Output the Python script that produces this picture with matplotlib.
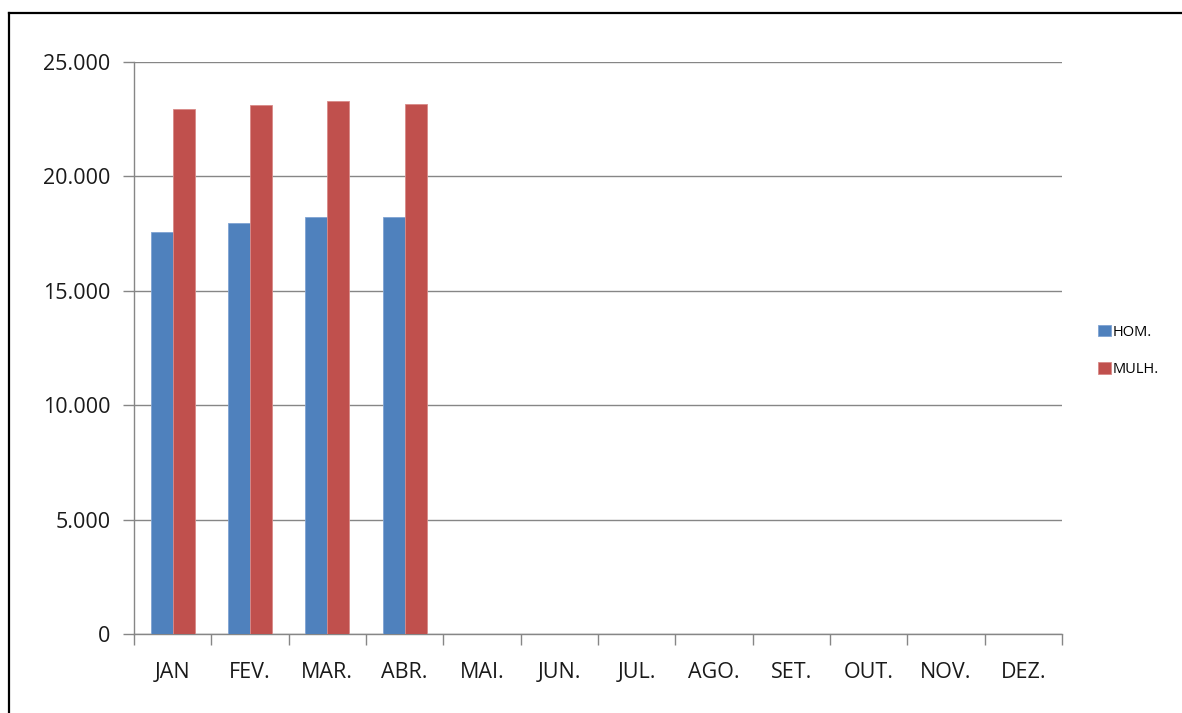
import matplotlib.pyplot as plt
from matplotlib.lines import Line2D
from matplotlib.ticker import FuncFormatter, MultipleLocator
import numpy as np

months = ["JAN", "FEV.", "MAR.", "ABR.", "MAI.", "JUN.", "JUL.", "AGO.", "SET.", "OUT.", "NOV.", "DEZ."]
hom = [17560, 17950, 18225, 18225]     # only first four months filled
mulh = [22930, 23110, 23280, 23150]
series_names = ["HOM.", "MULH."]

blue = "#4F81BD"
red = "#C0504D"
grid_gray = "#868686"

plt.rcParams["font.family"] = ["Open Sans", "DejaVu Sans"]

fig = plt.figure(figsize=(11.82, 7.13), dpi=100)
ax = fig.add_axes([134 / 1182, 79 / 713, 928 / 1182, 572 / 713])

x = np.arange(len(hom))
w = 0.285
ax.bar(x - w / 2, hom, width=w, color=blue, edgecolor="#7FA3D3", linewidth=0.6, label=series_names[0], zorder=3)
ax.bar(x + w / 2, mulh, width=w, color=red, edgecolor="#D98A88", linewidth=0.6, label=series_names[1], zorder=3)

ax.set_xlim(-0.5, len(months) - 0.5)
ax.set_ylim(0, 25000)
ax.yaxis.set_major_locator(MultipleLocator(5000))
ax.yaxis.set_major_formatter(FuncFormatter(lambda v, p: f"{int(v):,}".replace(",", ".")))
ax.yaxis.grid(True, color=grid_gray, linewidth=1, zorder=0)

# category labels centred, tick marks at category boundaries
ax.set_xticks(np.arange(len(months)))
ax.set_xticklabels(months)
ax.set_xticks(np.arange(len(months) + 1) - 0.5, minor=True)
ax.tick_params(axis="x", which="major", length=0, pad=20, labelsize=15.5, labelcolor="#1a1a1a")
ax.tick_params(axis="x", which="minor", length=8, width=1, color=grid_gray, direction="out")
ax.tick_params(axis="y", length=8, width=1, color=grid_gray, pad=9, labelsize=15.5, labelcolor="#1a1a1a")

for s in ["top", "right"]:
    ax.spines[s].set_visible(False)
for s in ["left", "bottom"]:
    ax.spines[s].set_color(grid_gray)
    ax.spines[s].set_linewidth(1)

leg = ax.legend(loc="center left", bbox_to_anchor=(1.025, 0.495), frameon=False,
                handlelength=0.85, handleheight=0.85, handletextpad=0.15,
                labelspacing=1.55, fontsize=10.5)

# outer border (only top and left visible in the crop)
fig.add_artist(Line2D([9.5 / 1182, 9.5 / 1182], [0, 1 - 12.5 / 713], transform=fig.transFigure, color="black", linewidth=1.6))
fig.add_artist(Line2D([9.5 / 1182, 1], [1 - 12.5 / 713, 1 - 12.5 / 713], transform=fig.transFigure, color="black", linewidth=1.6))

fig.savefig("out.png", dpi=100)
